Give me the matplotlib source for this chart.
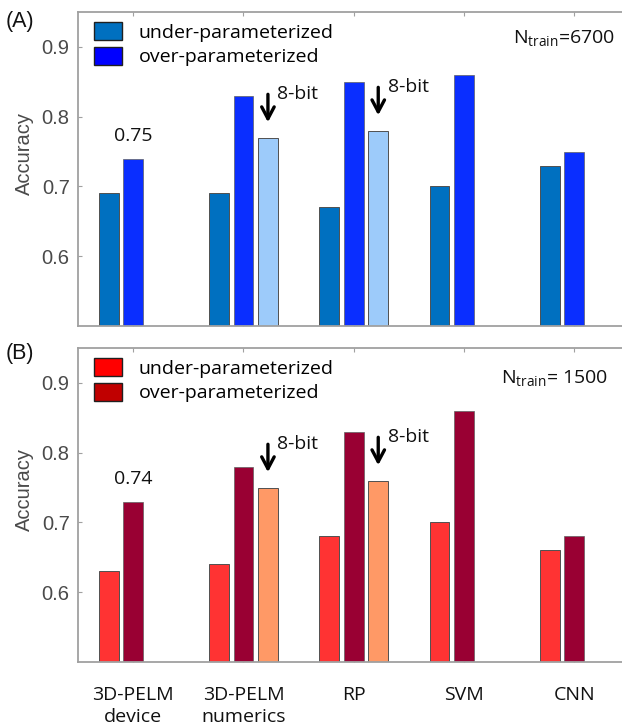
import numpy as np
import matplotlib
matplotlib.use("Agg")
import matplotlib.pyplot as plt
from matplotlib.patches import Patch

categories = ["3D-PELM\ndevice", "3D-PELM\nnumerics", "RP", "SVM", "CNN"]
series_names = ["under-parameterized", "over-parameterized"]

# panel A, N_train = 6700
under_a = [0.69, 0.69, 0.67, 0.70, 0.73]
over_a = [0.74, 0.83, 0.85, 0.86, 0.75]
bit8_a = [np.nan, 0.77, 0.78, np.nan, np.nan]
note_a = "0.75"
ntrain_a = 6700

# panel B, N_train = 1500
under_b = [0.63, 0.64, 0.68, 0.70, 0.66]
over_b = [0.73, 0.78, 0.83, 0.86, 0.68]
bit8_b = [np.nan, 0.75, 0.76, np.nan, np.nan]
note_b = "0.74"
ntrain_b = 1500

yticks = [0.6, 0.7, 0.8, 0.9]

txt_font = ["Open Sans", "DejaVu Sans"]
tick_font = ["Liberation Sans", "DejaVu Sans"]
grey = "#4a4a4a"
spine_grey = "#a0a0a0"
fs = 14

W, H = 622, 728
fig = plt.figure(figsize=(W / 100, H / 100), dpi=100)


def panel(ax, under, over, bit8, colors, leg_colors, note, show_x):
    x = np.arange(1, len(categories) + 1)
    off, w = 0.222, 0.18
    ax.bar(x - off, under, w, color=colors[0], edgecolor="#505050", lw=0.7, zorder=2)
    ax.bar(x, over, w, color=colors[1], edgecolor="#606060", lw=0.5, zorder=2)
    ax.bar(x + off, bit8, w, color=colors[2], edgecolor="#505050", lw=0.7, zorder=2)

    ax.set_xlim(0.5, 5.5)
    ax.set_ylim(0.5, 0.95)
    ax.set_yticks(yticks)
    ax.set_yticklabels([f"{v:.1f}" for v in yticks], family=tick_font,
                       fontsize=14.5, color=grey)
    ax.set_xticks(x)
    ax.tick_params(axis="both", direction="in", length=3, color=spine_grey,
                   top=True, right=True)
    ax.tick_params(axis="y", pad=6)
    if show_x:
        ax.set_xticklabels(categories, family=txt_font, fontsize=fs,
                           color="#111111", linespacing=1.3)
        ax.tick_params(axis="x", pad=17)
    else:
        ax.set_xticklabels([])
    for s in ax.spines.values():
        s.set_color(spine_grey)
        s.set_linewidth(1.3)

    ax.set_ylabel("Accuracy", family=tick_font, fontsize=14.5, color=grey)
    ax.yaxis.set_label_coords(-0.08, 0.55)

    # arrows for the 8-bit bars
    for i, v in enumerate(bit8):
        if np.isnan(v):
            continue
        xi = x[i] + off
        ax.annotate("", xy=(xi, v + 0.018), xytext=(xi, v + 0.066),
                    arrowprops=dict(arrowstyle="->,head_width=0.45,head_length=0.85",
                                    lw=2.4, color="black"), zorder=3)
        ax.text(xi + 0.085, v + 0.062, "8-bit", family=txt_font, fontsize=fs,
                ha="left", va="center", color="#111111")

    ax.text(x[0], over[0] + 0.032, note, family=txt_font, fontsize=fs,
            ha="center", va="center", color="#111111")

    handles = [Patch(facecolor=c, edgecolor="#202020", lw=1.0) for c in leg_colors]
    ax.legend(handles, series_names, loc="upper left",
              bbox_to_anchor=(16 / 551.5, 1 - 10 / 314),
              frameon=False, prop={"family": txt_font, "size": fs},
              handlelength=1.45, handleheight=1.05, handletextpad=0.85,
              labelspacing=0.25, borderpad=0, borderaxespad=0)
    return ax


ax_w = 551.5 / W
ax_h = 314 / H
ax1 = fig.add_axes([78 / W, 1 - 326 / H, ax_w, ax_h])
ax2 = fig.add_axes([78 / W, 1 - 662 / H, ax_w, ax_h])

panel(ax1, under_a, over_a, bit8_a, ["#0070C0", "#0A2EFF", "#9DCBFA"],
      ["#0070C0", "#0000FF"], note_a, False)
panel(ax2, under_b, over_b, bit8_b, ["#FF3333", "#990033", "#FF9966"],
      ["#FF0000", "#C00000"], note_b, True)

fig.text(615 / W, 1 - 38 / H, r"$\mathregular{N_{train}}$=%d" % ntrain_a,
         family=txt_font, fontsize=fs, ha="right", va="center", color="#111111")
fig.text(608 / W, 1 - 378 / H, r"$\mathregular{N_{train}}$= %d" % ntrain_b,
         family=txt_font, fontsize=fs, ha="right", va="center", color="#111111")

fig.text(6 / W, 1 - 21 / H, "(A)", family=tick_font, fontsize=15.5,
         ha="left", va="center", color="#111111")
fig.text(6 / W, 1 - 353 / H, "(B)", family=tick_font, fontsize=15.5,
         ha="left", va="center", color="#111111")

fig.savefig("out.png", dpi=100)
